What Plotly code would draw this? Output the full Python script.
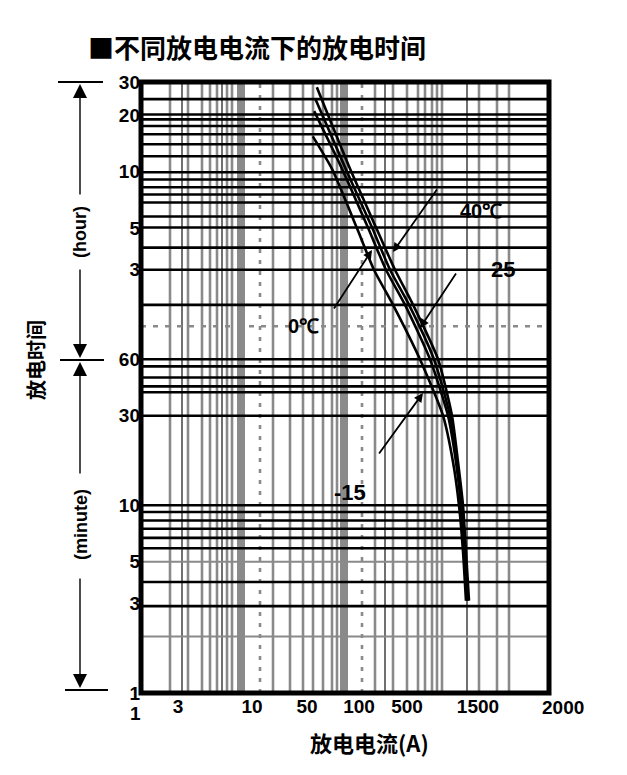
import numpy as np
import plotly.graph_objects as go

# ---------------- data ----------------
X_TICK_VALUES = [1, 3, 10, 50, 100, 500, 1500, 2000]
X_TICK_TEXT = ["1", "3", "10", "50", "100", "500", "1500", "2000"]
Y_TICK_MINUTES = [1, 3, 5, 10, 30, 60, 180, 300, 600, 1200, 1800]
Y_TICK_TEXT = ["1", "3", "5", "10", "30", "60", "3", "5", "10", "20", "30"]

CURRENT_40C = [57, 89, 177, 334, 549, 808, 1003, 1101, 1189, 1245, 1305]
TIME_40C = [1690, 617, 302, 180, 117, 60, 30, 17, 10, 5.7, 3.1]
CURRENT_25C = [56, 84, 155, 283, 516, 759, 973, 1084, 1171, 1226, 1285]
TIME_25C = [1460, 617, 302, 180, 117, 60, 30, 17, 10, 5.7, 3.1]
CURRENT_0C = [55, 80, 135, 247, 468, 714, 943, 1067, 1153, 1208, 1265]
TIME_0C = [1260, 617, 302, 180, 117, 60, 30, 17, 10, 5.7, 3.1]
CURRENT_M15C = [54, 70, 97, 165, 313, 611, 873, 1019, 1118, 1189, 1245]
TIME_M15C = [925, 617, 302, 180, 117, 60, 30, 17, 10, 5.7, 3.1]

# ---------------- scale / style ----------------
# the printed current axis is not uniformly logarithmic: piecewise-log scale
X_ANCHOR_U = [133, 178, 252, 307, 359, 407, 478, 563]
X_RANGE = [141, 549]
Y_RANGE = [np.log10(1) - 0.0006, np.log10(1800) + 0.0006]


def to_u(current):
    return np.interp(np.log10(np.asarray(current, float)),
                     np.log10(X_TICK_VALUES), X_ANCHOR_U)


W, H = 627, 775
ML, MR, MT, MB = 141, W - 549, 82, H - 693


def px(x):
    return (x - ML) / (W - ML - MR)


def py(y):
    return (H - MB - y) / (H - MT - MB)


H_GRID_BLACK = [1460, 1210, 1140, 1050, 950, 840, 725, 595, 545, 495, 453, 411, 346,
                302, 236, 180, 117, 60, 55, 48, 43, 40, 30, 10, 9.2, 8.3, 7.5, 6.7,
                5.9, 3.9, 2.9]
H_GRID_GRAY = [5, 2]
H_GRID_DASH = [90]
V_GRID_GRAY = [170, 188, 202, 210, 217, 227, 232, 273, 290, 303, 313, 323, 332, 337,
               375, 393, 407, 418, 425, 432, 437, 442, 479, 497, 509]
V_GRID_BLACK = [182, 222, 385, 467]
V_GRID_BAND = [241, 344]
V_GRID_DASH = [260, 362]

fig = go.Figure()


def vlines(us, color, width, dash="solid"):
    xs, ys = [], []
    for u in us:
        xs += [u, u, None]
        ys += [1, 1800, None]
    fig.add_trace(go.Scatter(x=xs, y=ys, mode="lines", hoverinfo="skip",
                             line=dict(color=color, width=width, dash=dash)))


def hlines(ms, color, width, dash="solid"):
    xs, ys = [], []
    for m in ms:
        xs += [X_RANGE[0], X_RANGE[1], None]
        ys += [m, m, None]
    fig.add_trace(go.Scatter(x=xs, y=ys, mode="lines", hoverinfo="skip",
                             line=dict(color=color, width=width, dash=dash)))


vlines(V_GRID_GRAY, "#8a8a8a", 2.6)
vlines(V_GRID_BAND, "#8a8a8a", 8)
vlines(V_GRID_DASH, "#8a8a8a", 2.6, dash="4px,7px")
vlines(V_GRID_BLACK, "#111111", 1.2)
hlines(H_GRID_GRAY, "#8a8a8a", 2)
hlines(H_GRID_DASH, "#8a8a8a", 2.4, dash="5px,7px")
hlines(H_GRID_BLACK, "#000000", 2.6)

for cur, tm in [(CURRENT_40C, TIME_40C), (CURRENT_25C, TIME_25C),
                (CURRENT_0C, TIME_0C), (CURRENT_M15C, TIME_M15C)]:
    fig.add_trace(go.Scatter(x=to_u(cur), y=tm, mode="lines", hoverinfo="skip",
                             line=dict(color="black", width=2.6, shape="spline", smoothing=0.6)))

FONT = "Liberation Sans"
CJK = "Noto Sans CJK SC"
ann = []


def text(x, y, s, size, family=FONT, angle=0, xanchor="center"):
    ann.append(dict(x=px(x), y=py(y), xref="paper", yref="paper", text=s, showarrow=False,
                    xanchor=xanchor, yanchor="middle", textangle=angle,
                    font=dict(family=family, size=size, color="black", weight="bold")))


def arrow(hx, hy, tx, ty, width=1.5, size=1.0, head=2):
    ann.append(dict(x=px(hx), y=py(hy), xref="paper", yref="paper", ax=tx - hx, ay=ty - hy,
                    axref="pixel", ayref="pixel", text="", showarrow=True, arrowhead=head,
                    arrowsize=size, arrowwidth=width, arrowcolor="black"))


# title and axis titles
text(86, 46, "■不同放电电流下的放电时间", 26, family=CJK, xanchor="left")
text(369, 742, "放电电流(A)", 22, family=CJK)
text(35, 360, "放电时间", 20, family=CJK, angle=-90)

# out-of-range x tick labels
text(135, 713, X_TICK_TEXT[0], 19)
text(563, 707, X_TICK_TEXT[-1], 19)

# left hour/minute brackets
text(80, 232, "(hour)", 18, angle=-90)
text(81, 525, "(minute)", 18, angle=-90)
arrow(80, 84, 80, 196, width=1.4, size=2.0)
arrow(80, 358, 80, 268, width=1.4, size=2.0)
arrow(80, 362, 80, 475, width=1.4, size=2.0)
arrow(80, 688, 80, 577, width=1.4, size=2.0)

shapes = []
for x0, x1, y in [(58, 103, 82), (60, 104, 360), (65, 108, 690)]:
    shapes.append(dict(type="line", xref="paper", yref="paper", x0=px(x0), x1=px(x1),
                       y0=py(y), y1=py(y), line=dict(color="black", width=2)))
shapes.append(dict(type="rect", xref="paper", yref="paper", x0=0, x1=1, y0=0, y1=1,
                   line=dict(color="black", width=5), layer="above"))

# curve labels and pointers
text(481, 211, "40℃", 20)
text(503, 269, "25", 22)
text(303, 326, "0℃", 20)
text(350, 492, "-15", 22)
arrow(393, 252, 438, 188, width=1.8, size=1.0)
arrow(420, 328, 457, 272, width=1.8, size=1.0)
arrow(372, 250, 333, 310, width=1.8, size=1.0)
arrow(423, 393, 378, 455, width=1.8, size=1.0)

fig.update_layout(
    width=W, height=H, autosize=False,
    margin=dict(l=ML, r=MR, t=MT, b=MB, pad=0),
    plot_bgcolor="white", paper_bgcolor="white", showlegend=False,
    annotations=ann, shapes=shapes,
    xaxis=dict(range=X_RANGE, showgrid=False, zeroline=False, showline=False,
               tickvals=list(to_u(X_TICK_VALUES[1:-1])), ticktext=X_TICK_TEXT[1:-1],
               ticks="", tickfont=dict(family=FONT, size=19, color="black", weight="bold")),
    yaxis=dict(type="log", range=Y_RANGE, showgrid=False, zeroline=False, showline=False,
               tickvals=Y_TICK_MINUTES, ticktext=Y_TICK_TEXT, ticks="",
               tickfont=dict(family=FONT, size=19, color="black", weight="bold")),
)

fig.write_html("out.html", config={"displayModeBar": False})
